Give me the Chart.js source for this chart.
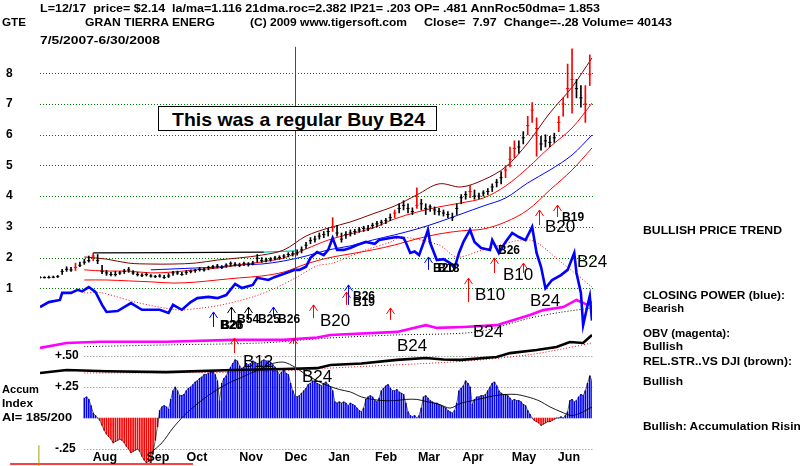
<!DOCTYPE html>
<html><head><meta charset="utf-8">
<script src="https://cdn.jsdelivr.net/npm/chart.js@4/dist/chart.umd.min.js"></script>
<style>
html,body{margin:0;padding:0;background:#fff;}
#wrap{position:relative;width:800px;height:466px;overflow:hidden;background:#fff;}
canvas{position:absolute;left:0;top:0;}
.t{position:absolute;font-family:"Liberation Sans",Arial,sans-serif;font-weight:bold;font-size:11.5px;line-height:13px;height:13px;white-space:pre;transform-origin:0 50%;color:#000;}
#box{position:absolute;left:158px;top:106px;width:277px;height:23px;border:1px solid #000;background:#fff;}
#boxt{position:absolute;font-family:"Liberation Sans",Arial,sans-serif;font-weight:bold;font-size:19px;line-height:21px;white-space:pre;transform-origin:0 50%;}
</style></head><body>
<div id="wrap"><canvas id="c" width="800" height="466"></canvas><div id="box"></div></div>
<script>
// ---------- DATA ----------
// price bars, one every 2 trading days (trading-day index 0 = 7/5/2007)
const barClose = [1.35,1.35,1.35,1.36,1.38,1.55,1.62,1.60,1.68,1.75, 1.85,1.90,2.05,1.90,1.55,1.50,1.45,1.45,1.50,1.55,
 1.60,1.50,1.45,1.42,1.45,1.40,1.38,1.40,1.35,1.40, 1.50,1.50,1.45,1.52,1.55,1.58,1.62,1.60,1.68,1.70,
 1.72,1.68,1.75,1.80,1.78,1.75,1.80,1.78,1.82,1.98, 1.90,1.92,1.95,1.98,2.00,2.05,2.10,2.12,2.15,2.25,
 2.40,2.55,2.60,2.70,2.75,2.85,3.00,2.80,2.60,2.75, 2.80,2.85,2.90,2.95,2.95,3.05,3.10,3.15,3.20,3.30,
 3.45,3.60,3.70,3.60,3.50,3.70,3.75,3.60,3.65,3.55, 3.50,3.45,3.40,3.30,3.60,3.95,4.05,4.15,4.00,4.00,
 4.10,4.15,4.30,4.45,4.60,4.85,5.20,5.55,5.60,5.90, 6.30,6.80,6.20,5.70,5.80,5.75,5.90,6.40,7.00,7.50,
 7.80,7.50,7.20,7.00,7.97];
const barHigh = [1.38,1.38,1.40,1.40,1.42,1.62,1.70,1.68,1.82,1.85, 1.95,2.05,2.15,2.10,1.75,1.58,1.52,1.55,1.55,1.62,
 1.68,1.58,1.52,1.48,1.50,1.45,1.42,1.45,1.42,1.48, 1.55,1.56,1.52,1.58,1.60,1.62,1.68,1.66,1.72,1.75,
 1.78,1.74,1.80,1.86,1.84,1.82,1.85,1.84,1.88,2.10, 2.00,1.98,2.00,2.04,2.06,2.10,2.16,2.20,2.25,2.35,
 2.50,2.65,2.70,2.80,2.85,2.95,3.30,3.05,2.80,2.85, 2.90,2.92,2.98,3.02,3.05,3.12,3.18,3.22,3.28,3.42,
 3.55,3.75,3.85,3.75,3.62,4.27,3.90,3.75,3.72,3.65, 3.60,3.55,3.50,3.45,3.75,4.05,4.15,4.35,4.20,4.10,
 4.18,4.25,4.40,4.55,4.80,5.00,5.60,5.80,5.80,6.10, 6.60,7.05,6.55,5.95,6.00,5.95,6.05,6.60,7.20,8.30,
 8.80,7.80,7.60,7.60,8.60];
const barLow = [1.33,1.33,1.33,1.34,1.35,1.45,1.55,1.55,1.58,1.70, 1.78,1.85,1.90,1.80,1.48,1.42,1.40,1.40,1.45,1.48,
 1.52,1.45,1.40,1.38,1.40,1.36,1.35,1.36,1.32,1.35, 1.42,1.45,1.42,1.45,1.50,1.52,1.56,1.56,1.60,1.64,
 1.66,1.64,1.68,1.72,1.72,1.70,1.74,1.72,1.76,1.85, 1.84,1.86,1.88,1.92,1.94,1.98,2.02,2.05,2.08,2.15,
 2.30,2.45,2.50,2.60,2.65,2.70,2.85,2.70,2.50,2.62, 2.70,2.75,2.82,2.85,2.88,2.95,3.00,3.05,3.10,3.20,
 3.30,3.45,3.55,3.45,3.40,3.60,3.55,3.40,3.50,3.40, 3.38,3.35,3.30,3.20,3.40,3.75,3.90,3.95,3.90,3.92,
 4.00,4.05,4.15,4.30,4.40,4.60,4.95,5.25,5.40,5.70, 6.00,6.40,5.30,5.50,5.60,5.60,5.75,6.10,6.60,7.20,
 6.70,7.20,6.90,6.40,7.60];
const redBars = [8,12,66,80,85,97,105,106,107,110,111,112,117,118,119,120,123,124];

// price bands
const bandDays = [20,30,40,50,60,70,80,90,100,110,120,130,140,150,160,170,180,190,200,210,220,230,240,249];
const upperBand = [2.02,1.95,1.82,1.79,1.79,1.82,1.92,1.99,2.08,2.25,2.70,2.96,3.16,3.42,3.68,4.04,4.40,4.30,4.53,4.95,5.73,6.71,7.55,8.50];
const midBand = [1.60,1.56,1.56,1.50,1.53,1.60,1.66,1.76,1.86,1.99,2.28,2.57,2.77,2.96,3.26,3.48,3.65,3.78,3.94,4.33,4.92,5.60,6.22,7.03];
const lowerBand = [1.27,1.27,1.24,1.21,1.17,1.20,1.27,1.34,1.40,1.53,1.79,1.99,2.12,2.25,2.41,2.61,2.77,2.87,2.93,3.16,3.55,4.20,4.85,5.57];
const maDays = [50,60,70,80,90,100,110,120,130,140,150,160,170,180,190,200,210,220,230,240,249];
const ma50 = [1.60,1.63,1.66,1.69,1.76,1.79,1.89,2.05,2.25,2.38,2.57,2.74,2.93,3.16,3.42,3.68,3.94,4.43,4.85,5.34,5.99];
const resDays = [24,62,101], resVals = [2.15,2.16,2.18];
const resTealDays = [101,115], resTealVals = [2.18,2.22];

// closing power (blue)
const cpDays = [0,4,9,10,14,17,19,22,25,28,30,35,41,46,50,54,58,60,64,68,71,76,80,84,88,91,96,98,103,106,111,115,117,120,122,125,128,130,132,134,137,140,143,147,151,153,158,161,164,165,167,169,171,173,175,176,179,182,185,187,189,191,194,196,199,203,204,207,210,213,216,219,222,224,226,228,231,235,238,241,242,244,245,247,248,249];
const cpVals = [0.39,0.55,0.62,0.85,0.85,0.95,0.90,1.04,0.88,0.46,0.23,0.26,0.52,0.30,0.30,0.30,0.20,0.46,0.30,0.55,0.68,0.72,0.68,0.78,1.14,1.01,1.11,1.34,1.27,1.37,1.50,1.60,1.60,1.70,1.99,2.18,2.08,2.25,2.64,2.25,2.25,2.31,2.41,2.51,2.45,2.57,2.64,2.67,2.64,2.50,2.15,2.20,2.08,2.48,2.90,2.48,1.92,1.95,1.82,1.66,2.15,2.51,2.90,2.51,2.31,2.25,2.57,2.15,2.51,2.80,2.67,2.57,3.00,2.15,1.70,1.00,1.27,1.43,1.60,2.15,1.50,0.85,-0.20,0.45,0.75,-0.05];
const cpMaDays = [20,28,43,62,73,82,96,106,115,125,132,147,158,163,180,188,200,221,235,249];
const cpMaVals = [0.85,0.85,0.55,0.30,0.36,0.46,0.72,1.00,1.33,1.73,1.82,2.25,2.50,2.67,2.41,2.02,2.25,2.57,1.85,1.04];

// OBV (magenta) and its MA
const obvDays = [0,12,27,57,87,110,125,131,161,174,179,191,206,221,227,236,242,247,249];
const obvVals = [-0.94,-0.78,-0.74,-0.74,-0.68,-0.68,-0.60,-0.52,-0.42,-0.20,-0.29,-0.26,-0.20,0.13,0.29,0.39,0.62,0.46,0.56];
const obvMaDays = [20,60,100,130,160,197,221,235,249];
const obvMaVals = [-0.90,-0.84,-0.78,-0.62,-0.52,-0.42,0.03,0.22,0.36];

// relative strength vs DJI and its MA
const rsDays = [0,12,30,57,87,110,125,131,145,161,174,182,190,206,212,224,233,239,245,249];
const rsVals = [-1.76,-1.66,-1.70,-1.73,-1.66,-1.63,-1.60,-1.50,-1.45,-1.33,-1.27,-1.32,-1.33,-1.24,-1.11,-1.01,-0.91,-0.75,-0.78,-0.52];
const rsMaDays = [20,100,130,190,220,236,249];
const rsMaVals = [-1.76,-1.72,-1.60,-1.38,-1.17,-0.97,-0.78];

// accumulation index, daily from trading day 20
const accumStart = 20;
const accumVals = [
0.16,0.17,0.15,0.10,0.04,0.02,0.00,-0.02,-0.06,-0.10,
-0.13,-0.15,-0.17,-0.20,-0.19,-0.18,-0.17,-0.18,-0.20,-0.23,
-0.25,-0.28,-0.27,-0.26,-0.25,-0.27,-0.31,-0.34,-0.36,-0.35,
-0.36,-0.28,-0.18,-0.07,0.06,0.09,0.10,0.09,0.07,0.15,
0.22,0.25,0.22,0.18,0.18,0.19,0.22,0.24,0.25,0.27,
0.29,0.30,0.32,0.33,0.35,0.35,0.36,0.37,0.37,0.35,
0.30,0.14,0.28,0.32,0.34,0.38,0.41,0.44,0.47,0.46,
0.42,0.40,0.41,0.44,0.43,0.44,0.46,0.45,0.44,0.44,
0.46,0.47,0.46,0.46,0.45,0.43,0.41,0.38,0.35,0.37,
0.39,0.36,0.35,0.28,0.22,0.18,0.17,0.18,0.20,0.22,
0.24,0.27,0.28,0.30,0.29,0.28,0.27,0.26,0.28,0.29,
0.27,0.25,0.22,0.13,0.12,0.13,0.12,0.13,0.12,0.10,
0.12,0.11,0.10,0.08,0.06,0.05,0.08,0.15,0.17,0.18,
0.17,0.14,0.13,0.16,0.22,0.24,0.26,0.27,0.24,0.22,
0.22,0.23,0.21,0.20,0.19,0.12,0.05,0.02,0.01,0.02,
0.00,0.02,0.08,0.17,0.18,0.16,0.14,0.13,0.12,0.12,
0.11,0.10,0.09,0.08,0.06,0.05,0.04,0.06,0.12,0.22,
0.24,0.26,0.30,0.28,0.25,0.11,0.15,0.17,0.17,0.18,
0.18,0.19,0.22,0.25,0.28,0.29,0.26,0.22,0.20,0.19,
0.19,0.18,0.16,0.14,0.15,0.14,0.14,0.13,0.11,0.10,
0.06,0.03,0.00,-0.02,-0.03,-0.04,-0.06,-0.05,-0.04,-0.03,
-0.03,-0.02,-0.01,0.00,0.00,0.01,0.00,0.02,0.05,0.14,
0.15,0.13,0.14,0.17,0.19,0.18,0.22,0.28,0.34,0.30];
const accMaDays = [50,55,60,65,70,75,80,85,90,95,100,105,110,115,120,125,130,135,140,145,150,155,160,165,170,175,180,185,190,195,200,205,210,215,220,225,230,235,240,245,249];
const accMaVals = [-0.28,-0.20,-0.08,0.02,0.10,0.17,0.23,0.28,0.32,0.36,0.40,0.44,0.45,0.41,0.35,0.30,0.26,0.23,0.21,0.17,0.15,0.14,0.14,0.15,0.15,0.13,0.11,0.08,0.12,0.14,0.16,0.18,0.19,0.19,0.17,0.14,0.09,0.05,0.02,0.05,0.09];

// axis ticks
const priceTicks = [1,2,3,4,5,6,7,8];
const accumTicks = [0.5,0.25,-0.25];
const accumTickLabels = ['+.50','+.25','-.25'];
const months = ['Aug','Sep','Oct','Nov','Dec','Jan','Feb','Mar','Apr','May','Jun'];
const monthDays = [29.3,53.2,70.8,95.2,115.5,134.9,156.1,175.5,195.3,218.3,238.6];

// signals: arrows (day, tip, tail, colour) and labels
const arrowDays = [78,86,94,105,87.5,114,123,138,139,158,175,193,205,218,225,233];
const arrowTips = [0.23,0.39,0.39,0.39,-0.62,-0.62,0.46,0.88,1.11,0.36,2.02,1.33,1.99,1.82,3.55,3.71];
const arrowTails = [-0.26,-0.10,-0.03,0.07,-1.11,-0.81,0.03,0.46,0.46,-0.03,1.60,0.55,1.50,1.50,3.06,3.32];
const arrowColors = ['#0000ff','#000000','#000000','#0000ff','#ff0000','#ff0000','#ff0000','#ff0000','#0000ff','#ff0000','#0000ff','#ff0000','#ff0000','#ff0000','#ff0000','#ff0000'];
const smallLabels = ['B20','B26','B54','B25','B26','B26','B19','B20','B18','B26','B19'];
const smallLabelDays = [81.2,81.8,88.9,98.3,107.4,141.2,141.2,177.3,179.3,206.6,235.5];
const smallLabelVals = [-0.23,-0.23,-0.03,-0.03,-0.03,0.72,0.52,1.65,1.65,2.21,3.29];
const bigLabels = ['B20','B10','B10','B20','B24','B24','B24','B24','B24','B12'];
const bigLabelDays = [126.3,196.2,208.8,227.8,242.2,221,195.3,161,118.2,91.6];
const bigLabelVals = [-0.07,0.78,1.43,2.99,1.86,0.59,-0.42,-0.88,-1.89,-1.40];
const buyLineDay = 115;

// ---------- CHART ----------
const pts = (xs, ys) => xs.map((x,i)=>({x:x, y:ys[i]}));
const barDays = barClose.map((_,i)=>i*2);
const barCol = barClose.map((_,i)=> redBars.includes(i) ? '#ff0000' : '#000000');
const accDays = accumVals.map((_,i)=>accumStart+i);

const line = (data, color, width, extra) => Object.assign({type:'line', data, borderColor:color, borderWidth:width, pointRadius:0, fill:false, tension:0, yAxisID:'y'}, extra||{});

const datasets = [
  line(pts(cpDays,cpVals),'#0000ff',2.6),
  line(pts(obvDays,obvVals),'#ff00ff',2.6),
  line(pts(rsDays,rsVals),'#000000',2.6),
  {type:'line', data:pts(barDays,barClose), showLine:false, pointStyle:'line', pointRadius:1.6, pointBorderWidth:1, pointBorderColor:barCol, pointBackgroundColor:barCol, yAxisID:'y'},
  {type:'bar', data:barDays.map((d,i)=>({x:d, y:[barLow[i],barHigh[i]]})), backgroundColor:barCol, barThickness:1, grouped:false, yAxisID:'y'},
  line(pts(accDays,accumVals),'#000000',0.6,{yAxisID:'ya'}),
  line(pts(accMaDays,accMaVals),'#000000',0.9,{yAxisID:'ya', tension:0.3}),
  {type:'bar', data:pts(accDays,accumVals), backgroundColor:accumVals.map(v=>v<0?'#ff0000':'#0000ff'), barThickness:1, grouped:false, yAxisID:'ya'},
  line(pts(bandDays,upperBand),'#800000',1,{tension:0.35}),
  line(pts(bandDays,midBand),'#ff0000',1,{tension:0.35}),
  line(pts(maDays,ma50),'#0000ff',1,{tension:0.35}),
  line(pts(bandDays,lowerBand),'#ff0000',1,{tension:0.35}),
  line(pts(resDays,resVals),'#000000',1.2),
  line(pts(resTealDays,resTealVals),'#00c8c8',1.2),
  line(pts(cpMaDays,cpMaVals),'#ff0000',1,{borderDash:[1,2], tension:0.3}),
  line(pts(obvMaDays,obvMaVals),'#000000',1,{borderDash:[1,2], tension:0.3}),
  line(pts(rsMaDays,rsMaVals),'#ff0000',1,{borderDash:[1,2], tension:0.3})
];

const deco = {
  id:'deco',
  beforeDatasetsDraw(chart){
    const c = chart.ctx, x = chart.scales.x, y = chart.scales.y, ya = chart.scales.ya;
    const a = chart.chartArea;
    c.save();
    c.lineWidth = 1;
    c.setLineDash([1,2]);
    c.strokeStyle = '#008000';
    priceTicks.forEach(v=>{
      const py = Math.round(y.getPixelForValue(v))+0.5;
      c.beginPath(); c.moveTo(a.left, py); c.lineTo(x.getPixelForValue(249)+1, py); c.stroke();
    });
    c.strokeStyle = '#808080';
    accumTicks.forEach(v=>{
      const py = Math.round(ya.getPixelForValue(v))+0.5;
      c.beginPath(); c.moveTo(x.getPixelForValue(accumStart), py); c.lineTo(x.getPixelForValue(249)+1, py); c.stroke();
    });
    c.restore();
  },
  afterDatasetsDraw(chart){
    const c = chart.ctx, x = chart.scales.x, y = chart.scales.y, ya = chart.scales.ya;
    c.save();
    // buy line
    const bx = Math.round(x.getPixelForValue(buyLineDay))+0.5;
    c.strokeStyle = '#008000'; c.lineWidth = 1;
    c.beginPath(); c.moveTo(bx, y.getPixelForValue(8.86)); c.lineTo(bx, ya.getPixelForValue(0)); c.stroke();
    // bottom artefacts
    c.strokeStyle = '#ff0000'; c.lineWidth = 1.5;
    c.beginPath(); c.moveTo(x.getPixelForValue(-13.5), ya.getPixelForValue(-0.37)); c.lineTo(x.getPixelForValue(69), ya.getPixelForValue(-0.37)); c.stroke();
    c.strokeStyle = '#a0a000'; c.lineWidth = 1;
    c.beginPath(); c.moveTo(x.getPixelForValue(-0.5), ya.getPixelForValue(-0.22)); c.lineTo(x.getPixelForValue(-0.5), ya.getPixelForValue(-0.4)); c.stroke();
    // arrows
    arrowDays.forEach((d,i)=>{
      const px = Math.round(x.getPixelForValue(d))+0.5;
      const t = y.getPixelForValue(arrowTips[i]), b = y.getPixelForValue(arrowTails[i]);
      c.strokeStyle = arrowColors[i]; c.lineWidth = 1;
      c.beginPath(); c.moveTo(px,b); c.lineTo(px,t); c.moveTo(px-4,t+6); c.lineTo(px,t); c.lineTo(px+4,t+6); c.stroke();
    });
    // labels
    c.fillStyle = '#000'; c.textBaseline = 'middle'; c.textAlign = 'left';
    c.font = 'bold 12px "Liberation Sans", Arial, sans-serif';
    smallLabels.forEach((s,i)=> c.fillText(s, x.getPixelForValue(smallLabelDays[i]), y.getPixelForValue(smallLabelVals[i])));
    c.font = '17px "Liberation Sans", Arial, sans-serif';
    bigLabels.forEach((s,i)=> c.fillText(s, x.getPixelForValue(bigLabelDays[i]), y.getPixelForValue(bigLabelVals[i])));
    // axis labels
    c.font = 'bold 12px "Liberation Sans", Arial, sans-serif';
    priceTicks.forEach(v=> c.fillText(String(v), 6, y.getPixelForValue(v)));
    accumTicks.forEach((v,i)=> c.fillText(accumTickLabels[i], 55, ya.getPixelForValue(v)));
    c.textAlign = 'center';
    c.font = 'bold 12.5px "Liberation Sans", Arial, sans-serif';
    months.forEach((m,i)=> c.fillText(m, x.getPixelForValue(monthDays[i]), ya.getPixelForValue(-0.322)));
    c.restore();
  }
};

new Chart(document.getElementById('c'), {
  type:'bar',
  data:{datasets},
  options:{
    responsive:false, animation:false, devicePixelRatio:1,
    layout:{autoPadding:false, padding:{left:40, right:208, top:40, bottom:0}},
    plugins:{legend:{display:false}, tooltip:{enabled:false}},
    scales:{
      x:{type:'linear', min:0, max:249, offset:false, display:false},
      y:{type:'linear', min:-4.786, max:9.084, display:false},
      ya:{type:'linear', min:-0.387, max:3.048, display:false}
    }
  },
  plugins:[deco]
});

// ---------- TEXT ----------
const texts = [
 ['L=12/17  price= $2.14  la/ma=1.116 21dma.roc=2.382 IP21= .203 OP= .481 AnnRoc50dma= 1.853', 40, 8, 560],
 ['GTE', 2, 22, 24],
 ['GRAN TIERRA ENERG', 85, 22, 130],
 ['(C) 2009 www.tigersoft.com', 250, 22, 157],
 ['Close=  7.97  Change=-.28 Volume= 40143', 424, 22, 248],
 ['7/5/2007-6/30/2008', 40, 40, 120],
 ['BULLISH PRICE TREND', 643, 230, 139],
 ['CLOSING POWER (blue):', 643, 295, 142],
 ['Bearish', 643, 308, 41],
 ['OBV (magenta):', 643, 333, 87],
 ['Bullish', 643, 346, 40],
 ['REL.STR..VS DJI (brown):', 643, 361, 149],
 ['Bullish', 643, 381, 40],
 ['Bullish: Accumulation Rising', 643, 426, 165],
 ['Accum', 2, 389, 37],
 ['Index', 2, 403, 31],
 ['AI= 185/200', 2, 417, 70]
];
const wrap = document.getElementById('wrap');
texts.forEach(([s,x,yc,w])=>{
  const d = document.createElement('div');
  d.className = 't'; d.textContent = s;
  d.style.left = x+'px'; d.style.top = (yc-6.5)+'px';
  wrap.appendChild(d);
  const ww = d.getBoundingClientRect().width;
  d.style.transform = 'scaleX('+(w/ww)+')';
});
const bt = document.createElement('div');
bt.id = 'boxt'; bt.textContent = 'This was a regular Buy B24';
bt.style.left = '172px'; bt.style.top = (119-10.5)+'px';
wrap.appendChild(bt);
bt.style.transform = 'scaleX('+(253/bt.getBoundingClientRect().width)+')';
</script>
</body></html>
